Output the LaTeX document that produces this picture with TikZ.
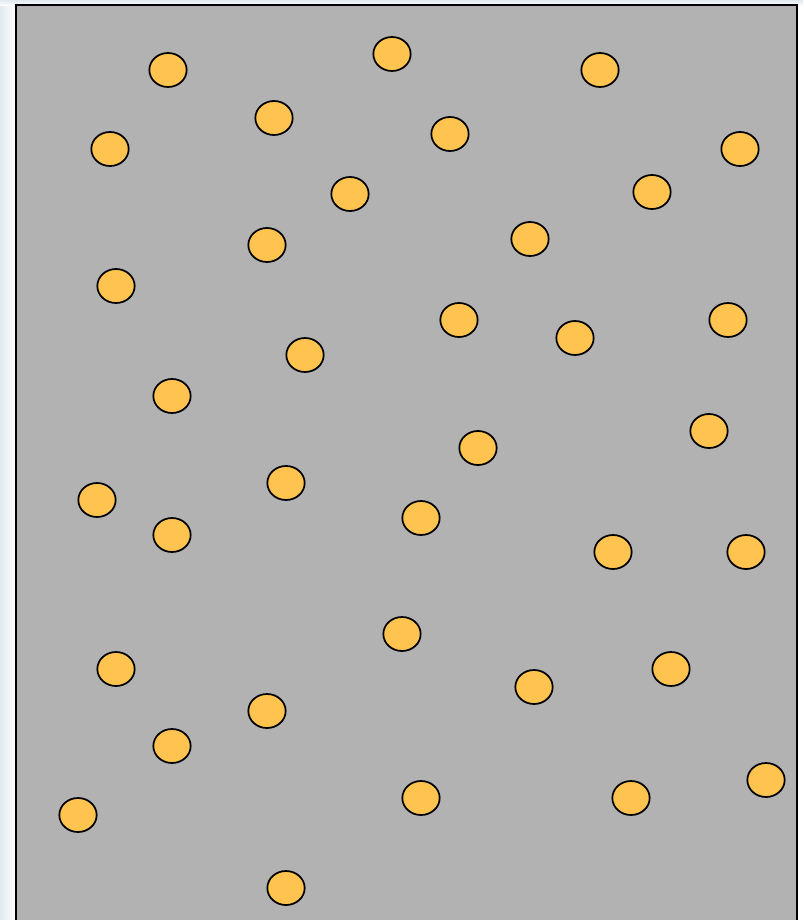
\documentclass[tikz,border=0pt]{standalone}
\usetikzlibrary{shapes.geometric}
\definecolor{bggray}{HTML}{B2B2B2}
\definecolor{dotfill}{HTML}{FFC34F}
\definecolor{edgeblue}{HTML}{E2EAEF}
\tikzset{
  dot/.style={ellipse, draw=black, fill=dotfill, line width=1.3pt,
    minimum width=28pt, minimum height=25.5pt, inner sep=0pt},
  panel/.style={draw=black, fill=bggray, line width=1.4pt}
}
\begin{document}
\begin{tikzpicture}[x=0.75pt,y=-0.75pt]
\clip (0,0) rectangle (803,920);
\useasboundingbox (0,0) rectangle (803,920);
\fill[white] (0,0) rectangle (803,920);
\shade[left color=edgeblue, right color=white] (0,0) rectangle (16,920);
\shade[top color=edgeblue, bottom color=white] (0,0) rectangle (803,6);
\draw[panel] (16,5) rectangle (797,930);
\foreach \n/\x/\y in {
 1/168/70, 2/392/54, 3/600/70, 4/274/118, 5/450/134, 6/110/149,
 7/740/149, 8/350/194, 9/652/192, 10/267/245, 11/530/239, 12/116/286,
 13/459/320, 14/575/338, 15/728/320, 16/305/355, 17/172/396, 18/709/431,
 19/478/448, 20/97/500, 21/286/483, 22/172/535, 23/421/518, 24/613/552,
 25/746/552, 26/402/634, 27/116/669, 28/534/687, 29/671/669, 30/267/711,
 31/172/746, 32/78/815, 33/421/798, 34/631/798, 35/766/780, 36/286/888}
 \node[dot] (e\n) at (\x,\y) {};
\end{tikzpicture}
\end{document}
